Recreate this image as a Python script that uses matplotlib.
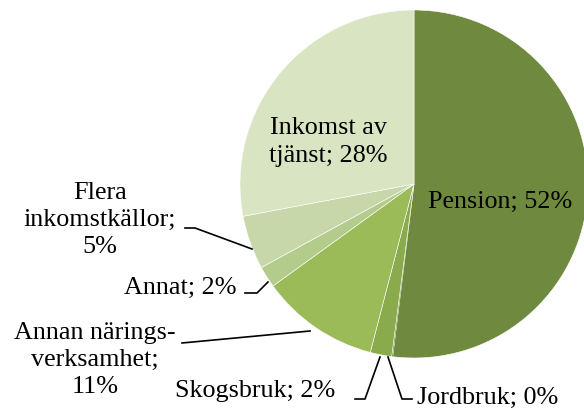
import matplotlib.pyplot as plt
import numpy as np

# andelar (%) medurs från kl. 12
categories = ['Pension', 'Jordbruk', 'Skogsbruk', 'Annan näringsverksamhet',
              'Annat', 'Flera inkomstkällor', 'Inkomst av tjänst']
values = [52, 0.1, 2, 11, 2, 5, 28]
label_text = ['Pension; 52%', 'Jordbruk; 0%', 'Skogsbruk; 2%',
              'Annan närings-\nverksamhet;\n11%', 'Annat; 2%',
              'Flera\ninkomstkällor;\n5%', 'Inkomst av\ntjänst; 28%']
colors = ['#6f8a3e', '#7e9d45', '#8aab4c', '#9bbb59', '#b4cc8b', '#c7d7aa', '#d8e4c2']

# pixel -> data: center (414,184), radius 174 px
CX, CY, R = 414, 184, 174

def px(x, y):
    return (x - CX) / R, (CY - y) / R

fig = plt.figure(figsize=(5.84, 4.12), dpi=100)
ax = fig.add_axes([0, 0, 1, 1])
wedges, _ = ax.pie(values, colors=colors, startangle=90, counterclock=False, radius=1,
                   wedgeprops=dict(edgecolor='white', linewidth=0.4))
wedges[1].set_linewidth(0)
ax.set_xlim(px(0, 0)[0], px(584, 0)[0])
ax.set_ylim(px(0, 412)[1], px(0, 0)[1])
ax.set_aspect('equal')
ax.axis('off')

font = dict(family='Liberation Serif', fontsize=18.8, color='black')

# etiketter (pixelpositioner i referensen)
label_pos = [(500, 202), (488, 398), (255, 391), (95, 360), (180, 288), (100, 220), (328, 142)]
for txt, (x, y) in zip(label_text, label_pos):
    ax.text(*px(x, y), txt, ha='center', va='center', linespacing=1.32, **font)

# hänvisningslinjer
leaders = [
    [(412, 399), (402, 399), (388, 357)],
    [(355, 399), (365, 399), (380, 357)],
    [(182, 343), (310, 331)],
    [(245, 293), (257, 293), (268, 282)],
    [(185, 228), (195, 228), (252, 249)],
]
for pts in leaders:
    xy = np.array([px(*p) for p in pts])
    ax.plot(xy[:, 0], xy[:, 1], color='black', linewidth=1.2)

plt.savefig('out.png', dpi=100)
